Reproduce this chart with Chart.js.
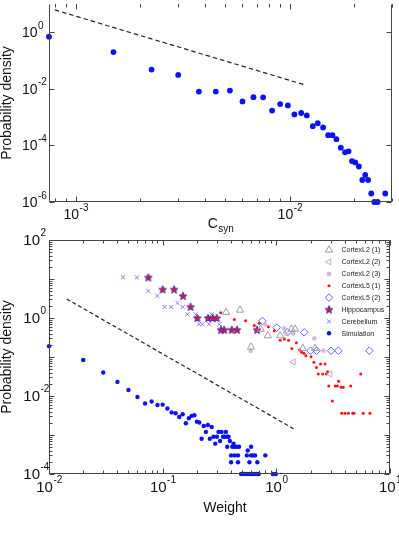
<!DOCTYPE html>
<html><head><meta charset="utf-8">
<script src="https://cdn.jsdelivr.net/npm/chart.js@4/dist/chart.umd.min.js"></script>
<style>
html,body{margin:0;padding:0;background:#fff;}
#wrap{position:relative;width:399px;height:554px;overflow:hidden;background:#fff;}
canvas{position:absolute;left:0;}
#c1{top:0;} #c2{top:222px;}
</style></head><body>
<div id="wrap"><canvas id="c1" width="399" height="240"></canvas><canvas id="c2" width="399" height="332"></canvas></div>
<script>
// ---------- Top panel: C_syn distribution ----------
const topCsyn = [0.00075,0.0015,0.00226,0.00301,0.00376,0.00451,0.00525,0.00601,0.00676,0.0075,0.00826,0.00901,0.00979,0.0105,0.0113,0.0120,0.0128,0.0135,0.0143,0.0151,0.0158,0.0165,0.0173,0.0181,0.0188,0.0195,0.0202,0.0210,0.0218,0.0225,0.0232,0.0240,0.0248,0.0257,0.0279];
const topDensity = [0.70,0.20,0.048,0.031,0.0080,0.0080,0.0087,0.0036,0.0051,0.0050,0.0017,0.0029,0.0026,0.00125,0.0014,0.00115,4.8e-4,6.1e-4,4.3e-4,2.3e-4,2.3e-4,1.66e-4,8.3e-5,5.7e-5,6.2e-5,2.8e-5,2.5e-5,1.8e-5,6e-6,9e-6,6e-6,2e-6,1e-6,1e-6,2e-6];
const topGuideX = [7.98e-4, 1.18e-2];
const topGuideY = [6.2, 0.0137];
const topXTicks = [1e-3, 1e-2];
const topXTickExp = ['-3','-2'];
const topYTicks = [1, 1e-2, 1e-4, 1e-6];
const topYTickExp = ['0','-2','-4','-6'];

// ---------- Bottom panel: weight distributions ----------
const legendLabels = ['CortexL2 (1)','CortexL2 (2)','CortexL2 (3)','CortexL5 (1)','CortexL5 (2)','Hippocampus','Cerebellum','Simulation'];
const l21X = [0.361,0.479,0.598,0.728,0.84,1.08,1.36,1.46,1.71,2.19];
const l21Y = [1.40,1.60,0.180,0.52,0.352,0.352,0.52,0.52,0.167,0.167];
const l22X = [1.41,2.97];
const l22Y = [0.0745,0.0366];
const l23X = [0.594,0.795,1.17,1.21,1.41,2.16,2.59];
const l23Y = [0.143,0.69,0.54,0.40,0.40,0.30,0.145];
const l51X = [0.324,0.427,0.537,0.640,0.708,0.851,0.960,1.08,1.175,1.28,1.50,1.37,1.60,1.67,1.75,1.82,2.02,2.14,2.25,2.34,2.45,2.56,2.68,2.75,2.83,2.89,3.11,3.30,3.44,3.53,3.71,3.88,3.76,4.02,4.30,4.51,4.70,4.82,5.52,5.82,6.66];
const l51Y = [1.37,0.92,0.85,0.64,0.73,0.60,0.47,0.27,0.29,0.27,0.233,0.164,0.151,0.132,0.124,0.108,0.102,0.073,0.054,0.0366,0.066,0.0366,0.066,0.0366,0.042,0.018,0.0074,0.018,0.018,0.0238,0.0167,0.0167,0.0036,0.0036,0.0036,0.018,0.0036,0.0036,0.0366,0.0036,0.0036];
const l52X = [0.754,1.007,1.25,1.76,2.00,2.26,3.03,3.51,6.58];
const l52Y = [0.84,0.565,0.43,0.43,0.145,0.145,0.145,0.145,0.145];
const hipX = [0.0748,0.100,0.126,0.151,0.176,0.202,0.251,0.275,0.299,0.326,0.348,0.405,0.451,0.676];
const hipY = [11,5.4,5.4,3.7,1.95,1.0,1.0,1.0,1.0,0.5,0.5,0.5,0.5,0.5];
const cereX = [0.0448,0.0594,0.0748,0.0748,0.0898,0.104,0.119,0.135,0.150,0.165,0.195,0.209,0.224,0.256,0.270,0.315,0.202,0.251,0.33];
const cereY = [11,11,11,4.9,3.66,1.91,1.91,2.43,1.91,1.24,1.24,0.69,0.69,0.69,1.24,0.69,1.0,1.0,0.5];
const simX = [0.01,0.02,0.03,0.04,0.05,0.06,0.07,0.08,0.09,0.10,0.11,0.12,0.13,0.14,0.15,0.16,0.17,0.18,0.19,0.20,0.21,0.22,0.23,0.24,0.25,0.26,0.27,0.28,0.29,0.30,0.31,0.32,0.33,0.34,0.35,0.36,0.37,0.38,0.37,0.39,0.40,0.40,0.41,0.42,0.43,0.43,0.45,0.46,0.46,0.47,0.49,0.52,0.55,0.55,0.56,0.58,0.58,0.60,0.60,0.61,0.62,0.64,0.65,0.67,0.68,0.70,0.80,0.93,0.99];
const simY = [0.19,0.084,0.040,0.023,0.0143,0.0094,0.0064,0.0072,0.0059,0.0060,0.0048,0.0038,0.0036,0.0029,0.0034,0.0020,0.0027,0.0031,0.0032,0.0022,0.0021,0.0008,0.0017,0.0012,0.0018,0.0008,0.0016,0.0009,0.0006,0.0009,0.0012,0.0007,0.0012,0.0009,0.0009,0.0012,0.0009,0.0009,0.0005,0.0007,0.0003,0.0002,0.0005,0.0006,0.0005,0.0003,0.0005,0.0003,0.0002,0.0005,0.0001,0.0001,0.0001,0.0003,0.0004,0.0001,0.0002,0.0005,0.0003,0.0001,0.0003,0.0001,0.0003,0.0001,0.0002,0.0001,0.0003,0.0001,0.0001];
const botGuideX = [0.0143, 1.43];
const botGuideY = [3.07, 0.00143];
const botXTicks = [1e-2, 1e-1, 1, 10];
const botXTickExp = ['-2','-1','0','1'];
const botYTicks = [100, 1, 1e-2, 1e-4];
const botYTickExp = ['2','0','-2','-4'];

// ---------- helpers ----------
const FONT = '"Liberation Sans", Arial, Helvetica, sans-serif';
const pts = (xs, ys) => xs.map((x, i) => ({x: x, y: ys[i]}));

function makeStar() {
  const c = document.createElement('canvas');
  c.width = 10; c.height = 10;
  const g = c.getContext('2d');
  g.beginPath();
  for (let i = 0; i < 10; i++) {
    const r = i % 2 ? 1.8 : 4.1;
    const a = -Math.PI / 2 + i * Math.PI / 5;
    g.lineTo(5 + r * Math.cos(a), 5.4 + r * Math.sin(a));
  }
  g.closePath();
  g.fillStyle = '#e0143a';
  g.fill();
  g.lineWidth = 1.0;
  g.strokeStyle = '#5030b0';
  g.stroke();
  return c;
}
const starImg = makeStar();

function drawPow(ctx, x, yc, exp, size, align) {
  const es = Math.round(size * 0.68);
  ctx.font = size + 'px ' + FONT;
  const w1 = ctx.measureText('10').width;
  ctx.font = es + 'px ' + FONT;
  const w2 = ctx.measureText(exp).width;
  const x0 = align === 'center' ? x - (w1 + w2) / 2 : x - w1;
  const base = yc + 0.358 * size;
  ctx.textAlign = 'left';
  ctx.textBaseline = 'alphabetic';
  ctx.font = size + 'px ' + FONT;
  ctx.fillText('10', x0, base);
  ctx.font = es + 'px ' + FONT;
  ctx.fillText(exp, x0 + w1 + 0.5, base - 0.6 * size);
}

function logTicks(min, max) {
  const out = [];
  for (let d = Math.floor(Math.log10(min)) - 1; d <= Math.ceil(Math.log10(max)); d++) {
    for (let m = 1; m <= 9; m++) {
      const v = m * Math.pow(10, d);
      if (v >= min * 0.9999 && v <= max * 1.0001) out.push({v: v, major: m === 1});
    }
  }
  return out;
}

const frameAxes = {
  id: 'frameAxes',
  afterDatasetsDraw(chart, args, o) {
    const ctx = chart.ctx;
    const a = chart.chartArea;
    const xs = chart.scales.x, ys = chart.scales.y;
    const L = Math.round(a.left) + 0.5, R = Math.round(a.right) - 0.5;
    const T = Math.round(a.top) + 0.5, B = Math.round(a.bottom) - 0.5;
    ctx.save();
    ctx.strokeStyle = o.color;
    ctx.lineWidth = 1;
    ctx.beginPath();
    ctx.moveTo(L, T); ctx.lineTo(L, B); ctx.lineTo(R, B); ctx.lineTo(R, T);
    if (o.topLine) { ctx.lineTo(L, T); }
    ctx.stroke();
    ctx.beginPath();
    // x ticks
    logTicks(xs.min, xs.max).forEach(t => {
      if (!t.major && !o.xMinor) return;
      const len = t.major ? 5 : 3;
      const px = Math.round(xs.getPixelForValue(t.v)) + 0.5;
      ctx.moveTo(px, B); ctx.lineTo(px, B - len);
      ctx.moveTo(px, T - 0.5); ctx.lineTo(px, T + len);
    });
    // y ticks
    if (o.yMinor) {
      logTicks(ys.min, ys.max).forEach(t => {
        const len = t.major ? 5 : 3;
        const py = Math.round(ys.getPixelForValue(t.v)) + 0.5;
        ctx.moveTo(L, py); ctx.lineTo(L + len, py);
        ctx.moveTo(R, py); ctx.lineTo(R - len, py);
      });
    } else {
      o.yTicks.forEach(v => {
        const py = Math.round(ys.getPixelForValue(v)) + 0.5;
        ctx.moveTo(L, py); ctx.lineTo(L + 5, py);
        ctx.moveTo(R, py); ctx.lineTo(R - 5, py);
      });
    }
    ctx.stroke();
    // labels
    ctx.fillStyle = '#111';
    o.xTicks.forEach((v, i) => {
      drawPow(ctx, xs.getPixelForValue(v), a.bottom + o.xLabelGap, o.xExp[i], o.fontSize, 'center');
    });
    o.yTicks.forEach((v, i) => {
      drawPow(ctx, o.yLabelRight, ys.getPixelForValue(v), o.yExp[i], o.fontSize, 'base');
    });
    // y title
    ctx.save();
    ctx.translate(o.yTitleX, (a.top + a.bottom) / 2);
    ctx.rotate(-Math.PI / 2);
    ctx.font = o.titleSize + 'px ' + FONT;
    ctx.textAlign = 'center';
    ctx.textBaseline = 'middle';
    ctx.fillText('Probability density', 0, 0);
    ctx.restore();
    // x title
    ctx.font = o.titleSize + 'px ' + FONT;
    ctx.textBaseline = 'alphabetic';
    if (o.xTitleSub) {
      const w1 = ctx.measureText(o.xTitle).width;
      ctx.font = '10px ' + FONT;
      const w2 = ctx.measureText(o.xTitleSub).width;
      const x0 = o.xTitleX - (w1 + w2) / 2;
      ctx.textAlign = 'left';
      ctx.font = o.titleSize + 'px ' + FONT;
      ctx.fillText(o.xTitle, x0, a.bottom + o.xTitleGap);
      ctx.font = '10px ' + FONT;
      ctx.fillText(o.xTitleSub, x0 + w1 + 0.5, a.bottom + o.xTitleGap + 4);
    } else {
      ctx.textAlign = 'center';
      ctx.fillText(o.xTitle, o.xTitleX, a.bottom + o.xTitleGap);
    }
    ctx.restore();
  }
};

const insideLegend = {
  id: 'insideLegend',
  afterDraw(chart, args, o) {
    if (!o || !o.show) return;
    const ctx = chart.ctx;
    const a = chart.chartArea;
    ctx.save();
    let row = 0;
    chart.data.datasets.forEach(ds => {
      if (!ds.label) return;
      const y = a.top + o.firstY + row * o.step;
      const x = a.right - o.markerFromRight;
      ctx.fillStyle = ds.pointBackgroundColor;
      ctx.strokeStyle = ds.pointBorderColor;
      ctx.lineWidth = ds.pointBorderWidth || 1;
      Chart.helpers.drawPoint(ctx, {pointStyle: ds.pointStyle, radius: ds.pointRadius, rotation: ds.pointRotation || 0, borderWidth: ds.pointBorderWidth || 0}, x, y);
      ctx.fillStyle = '#222';
      ctx.font = '7px ' + FONT;
      ctx.textAlign = 'left';
      ctx.textBaseline = 'middle';
      ctx.fillText(ds.label, a.right - o.textFromRight, y + 0.5);
      row++;
    });
    ctx.restore();
  }
};

Chart.register(frameAxes, insideLegend);

const baseOpts = (pad, xr, yr, fa, lg) => ({
  responsive: false, animation: false, devicePixelRatio: 1,
  layout: {padding: pad},
  events: [],
  scales: {
    x: {type: 'logarithmic', min: xr[0], max: xr[1], display: false},
    y: {type: 'logarithmic', min: yr[0], max: yr[1], display: false}
  },
  plugins: {legend: {display: false}, tooltip: {enabled: false}, frameAxes: fa, insideLegend: lg}
});

new Chart(document.getElementById('c1'), {
  type: 'scatter',
  data: {datasets: [
    {label: 'Simulation', data: pts(topCsyn, topDensity), pointStyle: 'circle', pointRadius: 2.9,
     pointBackgroundColor: '#0a12f5', pointBorderColor: '#0a12f5', pointBorderWidth: 0, clip: false},
    {label: '', data: pts(topGuideX, topGuideY), showLine: true, pointRadius: 0, borderColor: '#222',
     borderWidth: 1.2, borderDash: [4.5, 3], clip: false}
  ]},
  options: baseOpts({left: 49, top: 0, right: 7, bottom: 38}, [7.5e-4, 0.03], [1e-6, 10], {
    color: '#444', xMinor: true, yMinor: false, topLine: false,
    xTicks: topXTicks, xExp: topXTickExp, yTicks: topYTicks, yExp: topYTickExp,
    fontSize: 14, xLabelGap: 12, yLabelRight: 37.5,
    titleSize: 14, yTitleX: 7.5, xTitle: 'C', xTitleSub: 'syn', xTitleX: 220.5, xTitleGap: 26
  }, {show: false})
});

new Chart(document.getElementById('c2'), {
  type: 'scatter',
  data: {datasets: [
    {label: legendLabels[0], data: pts(l21X, l21Y), pointStyle: 'triangle', pointRadius: 4.2,
     pointBackgroundColor: 'rgba(0,0,0,0)', pointBorderColor: '#9c9c9c', pointBorderWidth: 1, clip: false},
    {label: legendLabels[1], data: pts(l22X, l22Y), pointStyle: 'triangle', pointRotation: -90, pointRadius: 3.6,
     pointBackgroundColor: 'rgba(0,0,0,0)', pointBorderColor: '#c2a6c2', pointBorderWidth: 1, clip: false},
    {label: legendLabels[2], data: pts(l23X, l23Y), pointStyle: 'star', pointRadius: 2.4,
     pointBackgroundColor: '#d6b6d6', pointBorderColor: '#d6b6d6', pointBorderWidth: 1.2, clip: false},
    {label: legendLabels[3], data: pts(l51X, l51Y), pointStyle: 'circle', pointRadius: 1.5,
     pointBackgroundColor: '#ff1010', pointBorderColor: '#ff1010', pointBorderWidth: 0, clip: false},
    {label: legendLabels[4], data: pts(l52X, l52Y), pointStyle: 'rectRot', pointRadius: 3.8,
     pointBackgroundColor: 'rgba(0,0,0,0)', pointBorderColor: '#5566ff', pointBorderWidth: 1, clip: false},
    {label: legendLabels[5], data: pts(hipX, hipY), pointStyle: starImg, pointRadius: 4,
     pointBackgroundColor: '#e0143a', pointBorderColor: '#5030b0', pointBorderWidth: 0, clip: false},
    {label: legendLabels[6], data: pts(cereX, cereY), pointStyle: 'crossRot', pointRadius: 2.9,
     pointBackgroundColor: '#7d7dff', pointBorderColor: '#7d7dff', pointBorderWidth: 1, clip: false},
    {label: legendLabels[7], data: pts(simX, simY), pointStyle: 'circle', pointRadius: 2.2,
     pointBackgroundColor: '#0a12f5', pointBorderColor: '#0a12f5', pointBorderWidth: 0, clip: false},
    {label: '', data: pts(botGuideX, botGuideY), showLine: true, pointRadius: 0, borderColor: '#222',
     borderWidth: 1.2, borderDash: [4, 2.6], clip: false}
  ]},
  options: baseOpts({left: 49, top: 18, right: 9, bottom: 80}, [0.01, 10], [1e-4, 100], {
    color: '#444', xMinor: true, yMinor: true, topLine: true,
    xTicks: botXTicks, xExp: botXTickExp, yTicks: botYTicks, yExp: botYTickExp,
    fontSize: 15, xLabelGap: 13, yLabelRight: 40,
    titleSize: 14, yTitleX: 7.5, xTitle: 'Weight', xTitleX: 225, xTitleGap: 38
  }, {show: true, firstY: 10, step: 11.9, markerFromRight: 61, textFromRight: 48.5})
});
</script>
</body></html>
